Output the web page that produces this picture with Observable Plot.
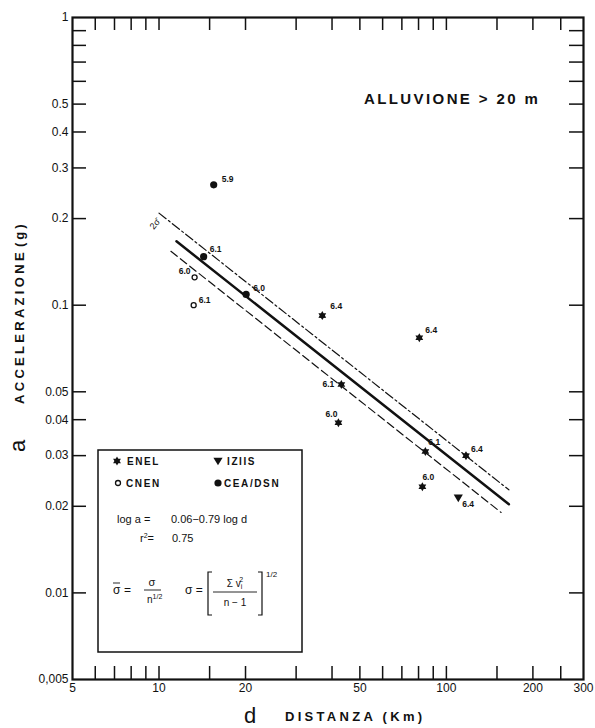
<!DOCTYPE html>
<html><head><meta charset="utf-8">
<script src="https://cdn.jsdelivr.net/npm/d3@7"></script>
<script src="https://cdn.jsdelivr.net/npm/@observablehq/plot@0.6"></script>
<style>
body{margin:0;background:#fff;}
#wrap{position:relative;width:595px;height:728px;overflow:hidden;background:#fff;}
#wrap svg{position:absolute;left:0;top:0;}
</style></head><body><div id="wrap"></div>
<script>
// ---------- data ----------
const enelDist = [37.0, 80.5, 43.1, 42.1, 84.5, 117, 82.5];
const enelAcc  = [0.092, 0.077, 0.053, 0.039, 0.031, 0.030, 0.0234];
const enelMag  = ["6.4", "6.4", "6.1", "6.0", "6.1", "6.4", "6.0"];
const iziisDist = [110];
const iziisAcc  = [0.0214];
const iziisMag  = ["6.4"];
const cnenDist = [13.3, 13.2];
const cnenAcc  = [0.125, 0.100];
const cnenMag  = ["6.0", "6.1"];
const ceaDist = [15.5, 14.3, 20.1];
const ceaAcc  = [0.262, 0.1475, 0.109];
const ceaMag  = ["5.9", "6.1", "6.0"];
// regression printed in the chart: log a = 0.06 - 0.79 log d, r2 = 0.75
const fitIntercept = 0.06;
const fitSlope = -0.79;
const fitR2 = 0.75;
const sigmaBar = 0.05;          // half-width of the 2σ̄ band (log10 units, estimated)
const fitDistRange   = [11.5, 165];
const upperDistRange = [10, 165];
const lowerDistRange = [11, 155];
const xTickValues = [6,7,8,9,10,15,20,30,40,50,60,70,80,90,100,150,200,250];
const xTickLabels = [5,10,20,50,100,200,300];
const yTickValues = [0.9,0.8,0.7,0.6,0.5,0.4,0.3,0.2,0.1,0.05,0.04,0.03,0.02,0.01];
const yTickLabels = [1,0.5,0.4,0.3,0.2,0.1,0.05,0.04,0.03,0.02,0.01,0.005];

// ---------- build tables ----------
const zip = (ds, as, ms) => ds.map((d, i) => ({d, a: as[i], m: ms[i]}));
const enel = zip(enelDist, enelAcc, enelMag);
const iziis = zip(iziisDist, iziisAcc, iziisMag);
const cnen = zip(cnenDist, cnenAcc, cnenMag);
const cea = zip(ceaDist, ceaAcc, ceaMag);
const fitLine = (range, off) => range.map(d => ({d, a: 10 ** (fitIntercept + fitSlope * Math.log10(d) + off)}));

// label placement (layout only)
const labelLayout = {
  enel: [[8,-9,"start"],[6,-8,"start"],[-7,0,"end"],[-1,-9,"end"],[3,-9,"start"],[5,-6,"start"],[0,-9,"start"]],
  iziis: [[4,6,"start"]],
  cnen: [[-4,-6,"end"],[5,-5,"start"]],
  cea: [[8,-6,"start"],[6,-7,"start"],[7,-6,"start"]]
};

const hexStar = {draw(ctx, size) {
  const R = Math.sqrt(size / Math.PI) * 1.25, r0 = R * 0.58;
  for (let i = 0; i < 12; i++) {
    const ang = Math.PI / 6 * i - Math.PI / 2, rr = i % 2 === 0 ? R : r0;
    const x = rr * Math.cos(ang), y = rr * Math.sin(ang);
    if (i === 0) ctx.moveTo(x, y); else ctx.lineTo(x, y);
  }
  ctx.closePath();
}};
const downTri = {draw(ctx, size) {
  const R = Math.sqrt(size / Math.PI) * 1.15;
  ctx.moveTo(-R, -R * 0.7); ctx.lineTo(R, -R * 0.7); ctx.lineTo(0, R * 0.95); ctx.closePath();
}};

const W = 595, H = 728, mL = 72, mR = 12, mT = 17, mB = 49;
const pW = W - mL - mR, pH = H - mT - mB;
const ink = "#111";
const yFmt = v => v === 0.005 ? "0,005" : String(v);

const labelMarks = [];
for (const [key, rows] of [["enel", enel], ["iziis", iziis], ["cnen", cnen], ["cea", cea]]) {
  rows.forEach((r, i) => {
    const [dx, dy, anchor] = labelLayout[key][i];
    labelMarks.push(Plot.text([r], {x: "d", y: "a", text: "m", dx, dy, textAnchor: anchor,
      fontSize: 8.5, fontWeight: "bold", fill: ink}));
  });
}

const chart = Plot.plot({
  width: W, height: H,
  marginLeft: mL, marginRight: mR, marginTop: mT, marginBottom: mB,
  style: {fontFamily: "'Liberation Sans', Arial, sans-serif", background: "transparent", color: ink},
  x: {type: "log", domain: [5, 300], axis: null},
  y: {type: "log", domain: [0.005, 1], axis: null},
  marks: [
    Plot.tickX(xTickValues, {x: d => d, insetTop: pH - 13, stroke: ink, strokeWidth: 1.5}),
    Plot.tickX(xTickValues, {x: d => d, insetBottom: pH - 13, stroke: ink, strokeWidth: 1.5}),
    Plot.tickY(yTickValues, {y: d => d, insetRight: pW - 14, stroke: ink, strokeWidth: 1.5}),
    Plot.tickY(yTickValues, {y: d => d, insetLeft: pW - 14, stroke: ink, strokeWidth: 1.5}),
    Plot.frame({stroke: ink, strokeWidth: 2.2}),
    Plot.text(xTickLabels, {x: d => d, frameAnchor: "bottom", dy: 12, text: d => String(d), fontSize: 12, fill: ink}),
    Plot.text(yTickLabels, {y: d => d, frameAnchor: "left", dx: -4, textAnchor: "end", text: yFmt, fontSize: 12, fill: ink}),
    Plot.line(fitLine(upperDistRange, sigmaBar), {x: "d", y: "a", stroke: ink, strokeWidth: 1.2, strokeDasharray: "9,3,2,3"}),
    Plot.line(fitLine(lowerDistRange, -sigmaBar), {x: "d", y: "a", stroke: ink, strokeWidth: 1.2, strokeDasharray: "8,4"}),
    Plot.line(fitLine(fitDistRange, 0), {x: "d", y: "a", stroke: ink, strokeWidth: 2.5}),
    Plot.text(fitLine([upperDistRange[0]], sigmaBar), {x: "d", y: "a", text: () => "2σ̄", dx: -4, dy: 11, rotate: -50, fontSize: 9, fill: ink}),
    Plot.dot(enel, {x: "d", y: "a", symbol: hexStar, r: 3.6, fill: ink, stroke: "none"}),
    Plot.dot(iziis, {x: "d", y: "a", symbol: downTri, r: 4, fill: ink, stroke: "none"}),
    Plot.dot(cnen, {x: "d", y: "a", r: 2.5, fill: "white", stroke: ink, strokeWidth: 1.3}),
    Plot.dot(cea, {x: "d", y: "a", r: 3.6, fill: ink, stroke: "none"}),
    ...labelMarks
  ]
});
const wrap = document.getElementById("wrap");
wrap.appendChild(chart);

// ---------- overlay: titles, axis names, legend box ----------
const ov = d3.select(wrap).append("svg").attr("width", W).attr("height", H)
  .style("pointer-events", "none").attr("font-family", "'Liberation Sans', Arial, sans-serif").attr("fill", ink);

ov.append("text").attr("x", 364).attr("y", 104).attr("font-size", 15).attr("font-weight", "bold")
  .attr("letter-spacing", 2.4).text("ALLUVIONE  > 20 m");

// y axis title
const yt = ov.append("g");
yt.append("text").attr("transform", "translate(25,452) rotate(-90)").attr("font-size", 22).text("a");
yt.append("text").attr("transform", "translate(24,404) rotate(-90)").attr("font-size", 13).attr("font-weight", "bold")
  .attr("letter-spacing", 3.3).text("ACCELERAZIONE");
yt.append("text").attr("transform", "translate(24,247) rotate(-90)").attr("font-size", 13).attr("font-weight", "bold")
  .attr("letter-spacing", 3).text("(g)");

// x axis title
ov.append("text").attr("x", 244).attr("y", 723).attr("font-size", 22).text("d");
ov.append("text").attr("x", 285).attr("y", 721).attr("font-size", 13).attr("font-weight", "bold")
  .attr("letter-spacing", 3.3).text("DISTANZA (Km)");

// legend box
const lg = ov.append("g");
lg.append("rect").attr("x", 98).attr("y", 450).attr("width", 204).attr("height", 202)
  .attr("fill", "white").attr("stroke", ink).attr("stroke-width", 1.5);
const sym = (type, size) => d3.symbol(type, size)();
lg.append("path").attr("transform", "translate(117,461)").attr("d", sym(hexStar, Math.PI * 3.6 * 3.6));
lg.append("path").attr("transform", "translate(218,461)").attr("d", sym(downTri, Math.PI * 16));
lg.append("circle").attr("cx", 118).attr("cy", 483).attr("r", 2.5).attr("fill", "white").attr("stroke", ink).attr("stroke-width", 1.3);
lg.append("circle").attr("cx", 218).attr("cy", 483).attr("r", 3.6);
const lt = (x, y, s, opts = {}) => {
  const t = lg.append("text").attr("x", x).attr("y", y).attr("font-size", opts.size || 10)
    .attr("letter-spacing", opts.ls || 0)
    .attr("text-anchor", opts.anchor || "start").text(s);
  if (opts.bold) t.attr("font-weight", "bold");
  return t;
};
lt(127, 465, "ENEL", {bold: true, ls: 1.6});
lt(227, 465, "IZIIS", {bold: true, ls: 1.6});
lt(126, 487, "CNEN", {bold: true, ls: 1.6});
lt(224, 487, "CEA/DSN", {bold: true, ls: 1.6});
lt(117, 523, "log a  =", {size: 11});
lt(171, 523, `${fitIntercept.toFixed(2)}−${Math.abs(fitSlope).toFixed(2)} log d`, {size: 11});
const r2 = lt(140, 542, "r", {size: 11});
r2.append("tspan").attr("font-size", 7).attr("dy", -4).text("2");
r2.append("tspan").attr("dy", 4).text("=");
lt(172, 542, String(fitR2), {size: 11});
// formulas
lt(113, 594, "σ", {size: 12});
lg.append("line").attr("x1", 113).attr("x2", 120).attr("y1", 583).attr("y2", 583).attr("stroke", ink).attr("stroke-width", 0.9);
lt(124, 594, "=", {size: 12});
lt(152, 586, "σ", {size: 11, anchor: "middle"});
lg.append("line").attr("x1", 144).attr("x2", 161).attr("y1", 590).attr("y2", 590).attr("stroke", ink).attr("stroke-width", 0.9);
const nd = lt(147, 603, "n", {size: 10});
nd.append("tspan").attr("font-size", 7).attr("dy", -4).text("1/2");
lt(185, 594, "σ =", {size: 12});
lg.append("path").attr("d", "M212,572H208V615H212M258,572H262V615H258").attr("fill", "none").attr("stroke", ink).attr("stroke-width", 1.2);
const num = lt(235, 587, "Σ v", {size: 10, anchor: "middle"});
num.append("tspan").attr("font-size", 7).attr("dy", 2).text("i");
num.append("tspan").attr("font-size", 7).attr("dy", -7).attr("dx", -3).text("2");
lg.append("line").attr("x1", 213).attr("x2", 257).attr("y1", 592).attr("y2", 592).attr("stroke", ink).attr("stroke-width", 0.9);
lt(235, 606, "n − 1", {size: 10, anchor: "middle"});
lt(266, 577, "1/2", {size: 8});
</script>
</body></html>
